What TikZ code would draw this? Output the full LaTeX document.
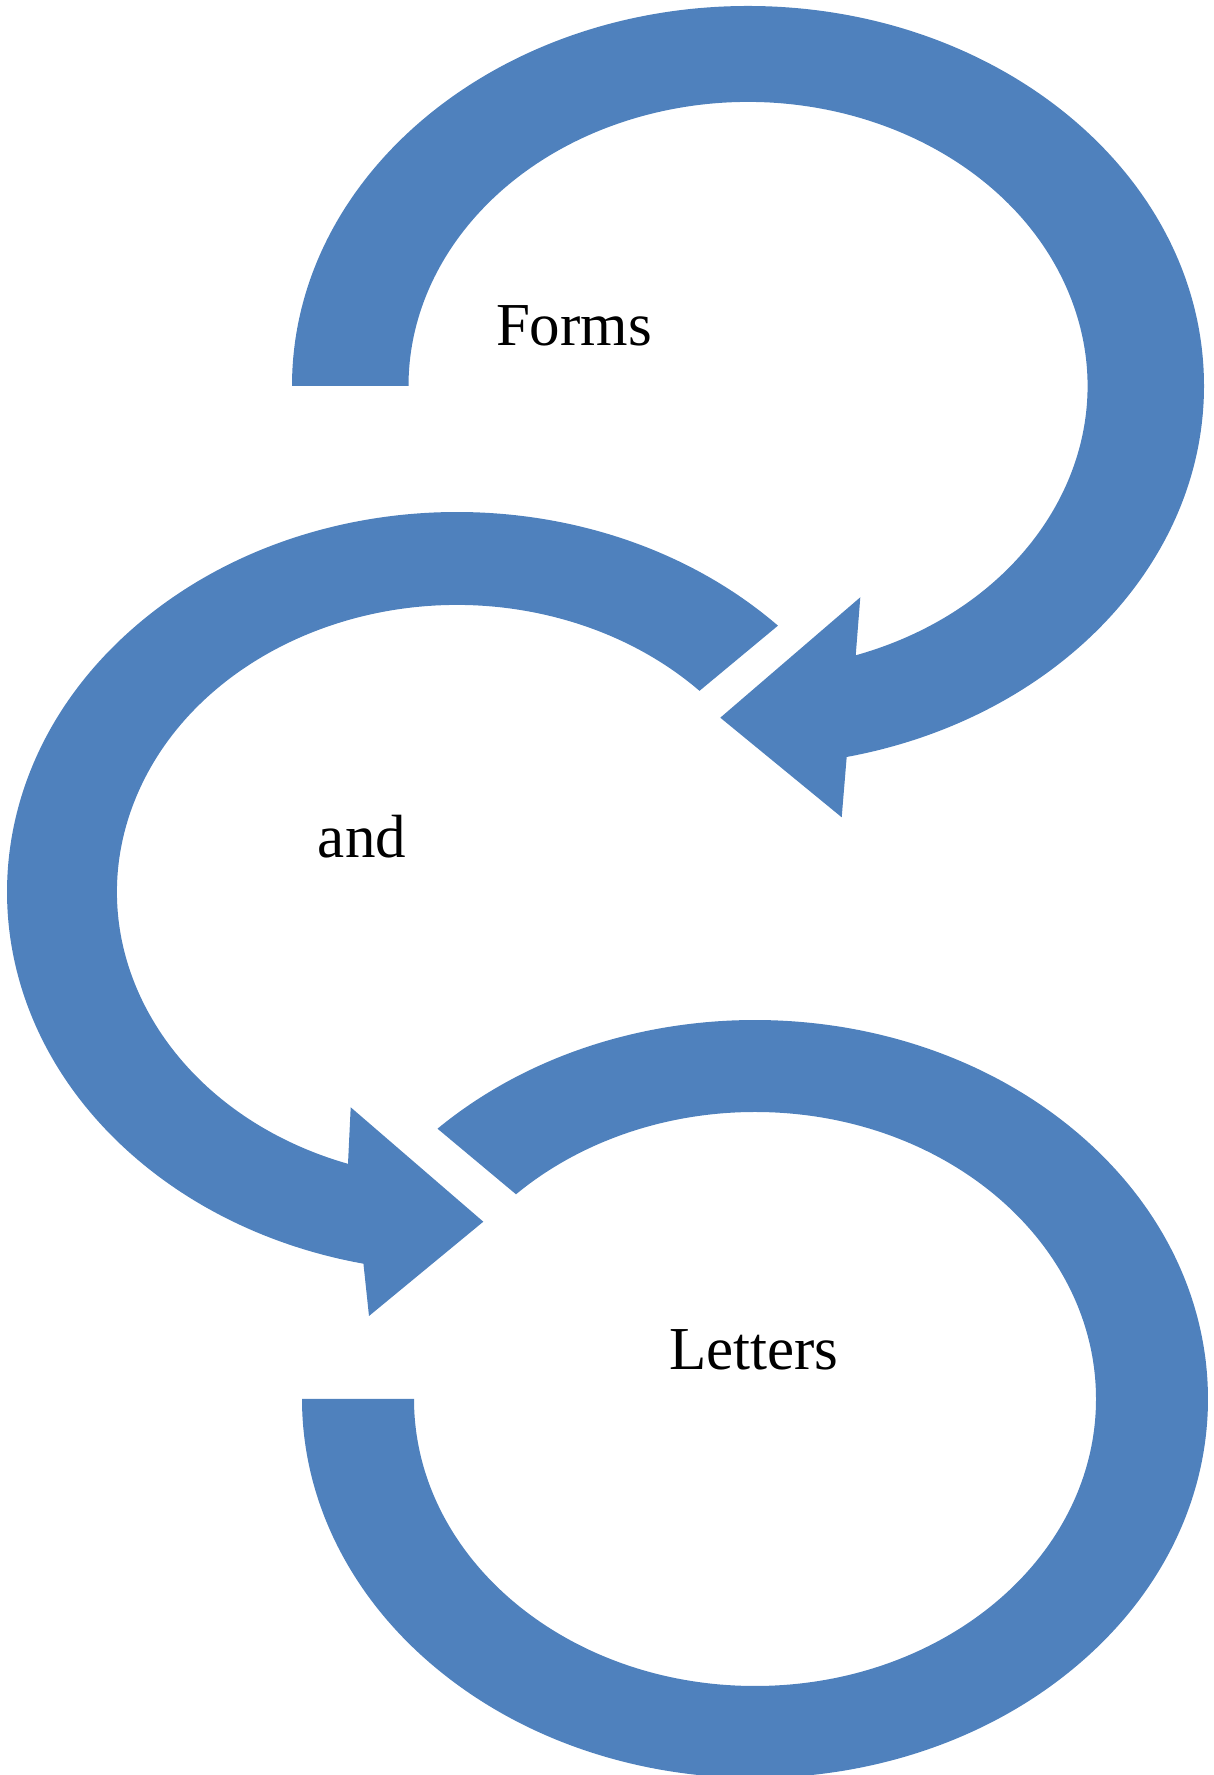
\documentclass[tikz,border=0pt]{standalone}
\usepackage{fontspec}
\setmainfont{Liberation Serif}
\definecolor{loopblue}{HTML}{4F81BD}
\tikzset{
  bandarrow/.style={fill=loopblue,draw=none},
  bandlabel/.style={anchor=base,inner sep=0pt,font=\fontsize{61}{73}\selectfont}
}
\begin{document}
\begin{tikzpicture}[x=1pt,y=1pt]
    \useasboundingbox (0,0) rectangle (1213,1775);
    \clip (0,0) rectangle (1213,1775);
    % top loop, turning back to the left
    \fill[bandarrow]
        (292,1389) arc[start angle=180,end angle=-77.5,x radius=456pt,y radius=380pt]
            -- (841.7,957.7) -- (720.3,1057.3) -- (860.3,1177.7)
            -- ([shift={(748,1389)}]-71.5:339.5pt and 284pt)
            arc[start angle=-71.5,end angle=180,x radius=339.5pt,y radius=284pt] -- cycle;
    % middle loop
    \fill[bandarrow]
        ([shift={(457,883)}]44.5:450pt and 380pt)
            arc[start angle=44.5,end angle=258,x radius=450pt,y radius=380pt]
            -- (369,459) -- (483.3,553.3) -- (350.7,667.7)
            -- ([shift={(457,883)}]251.3:340pt and 287pt)
            arc[start angle=251.3,end angle=44.5,x radius=340pt,y radius=287pt] -- cycle;
    % bottom loop
    \fill[bandarrow]
        ([shift={(755,376)}]134.5:453pt and 379pt)
            arc[start angle=134.5,end angle=-180,x radius=453pt,y radius=379pt]
            -- ([shift={(755,376)}]-180:341pt and 287pt)
            arc[start angle=-180,end angle=134.5,x radius=341pt,y radius=287pt] -- cycle;
    \node[bandlabel] (forms) at (574,1429) {Forms};
    \node[bandlabel] (andword) at (362,917) {and};
    \node[bandlabel] (letters) at (754,405) {Letters};
\end{tikzpicture}
\end{document}
